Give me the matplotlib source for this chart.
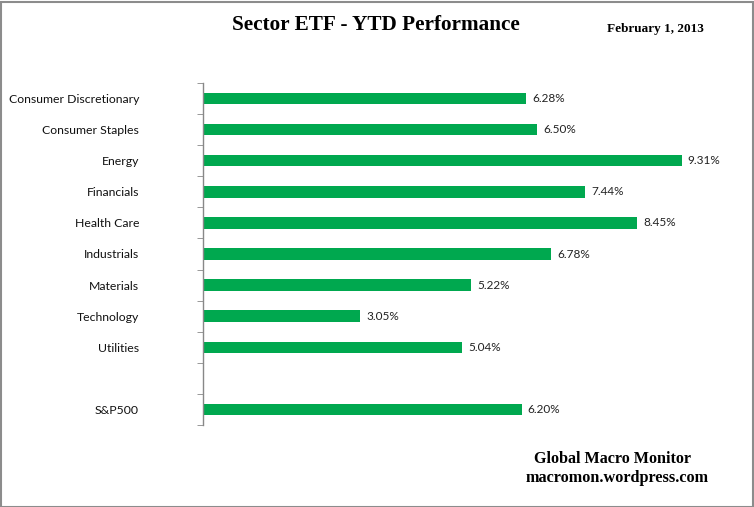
import matplotlib
matplotlib.use("Agg")
import matplotlib.pyplot as plt
from matplotlib.patches import Rectangle

categories = ["Consumer Discretionary", "Consumer Staples", "Energy", "Financials",
              "Health Care", "Industrials", "Materials", "Technology", "Utilities",
              "", "S&P500"]
values = [6.28, 6.50, 9.31, 7.44, 8.45, 6.78, 5.22, 3.05, 5.04, None, 6.20]
labels = ["6.28%", "6.50%", "9.31%", "7.44%", "8.45%", "6.78%", "5.22%", "3.05%",
          "5.04%", "", "6.20%"]

W, H = 754, 507
fig = plt.figure(figsize=(W/100, H/100), dpi=100)
fig.patches.append(Rectangle((0.5/W, 0.5/H), 1-2/W, 1-2/H, transform=fig.transFigure,
                             fill=False, edgecolor="#8c8c8c", linewidth=1.5))

top_px, bot_px = 83, 425
left_px = 203
ax = fig.add_axes([left_px/W, 1-bot_px/H, 514/W, (bot_px-top_px)/H])
n = len(categories)
pos = list(range(n))
for i, v in enumerate(values):
    if v is None:
        continue
    ax.barh(i, v, height=0.37, color="#00a84f")
    ax.text(v + 0.12, i, labels[i], va="center", ha="left", fontsize=8.5,
            family="Lato", color="#222222")
ax.set_ylim(n-0.5, -0.5)
ax.set_xlim(0, 10)
ax.set_yticks(pos)
ax.set_yticklabels(categories, fontsize=8.8, family="Lato", color="#111111")
ax.set_yticks([i-0.5 for i in range(n+1)], minor=True)
ax.tick_params(axis="y", which="major", length=0, pad=46)
ax.tick_params(axis="y", which="minor", length=4, color="#888888", direction="out")
ax.set_xticks([])
for s in ["top", "right", "bottom"]:
    ax.spines[s].set_visible(False)
ax.spines["left"].set_color("#888888")
ax.spines["left"].set_linewidth(1)

fig.text(376/W, 1-25/H, "Sector ETF - YTD Performance", ha="center", va="center",
         family="Liberation Serif", fontweight="bold", fontsize=15.3)
fig.text(655/W, 1-29/H, "February 1, 2013", ha="center", va="center",
         family="Liberation Serif", fontweight="bold", fontsize=9.5)
fig.text(612/W, 1-459/H, "Global Macro Monitor", ha="center", va="center",
         family="Liberation Serif", fontweight="bold", fontsize=11.6)
fig.text(617/W, 1-478/H, "macromon.wordpress.com", ha="center", va="center",
         family="Liberation Serif", fontweight="bold", fontsize=11.7)

fig.savefig("out.png", dpi=100)
